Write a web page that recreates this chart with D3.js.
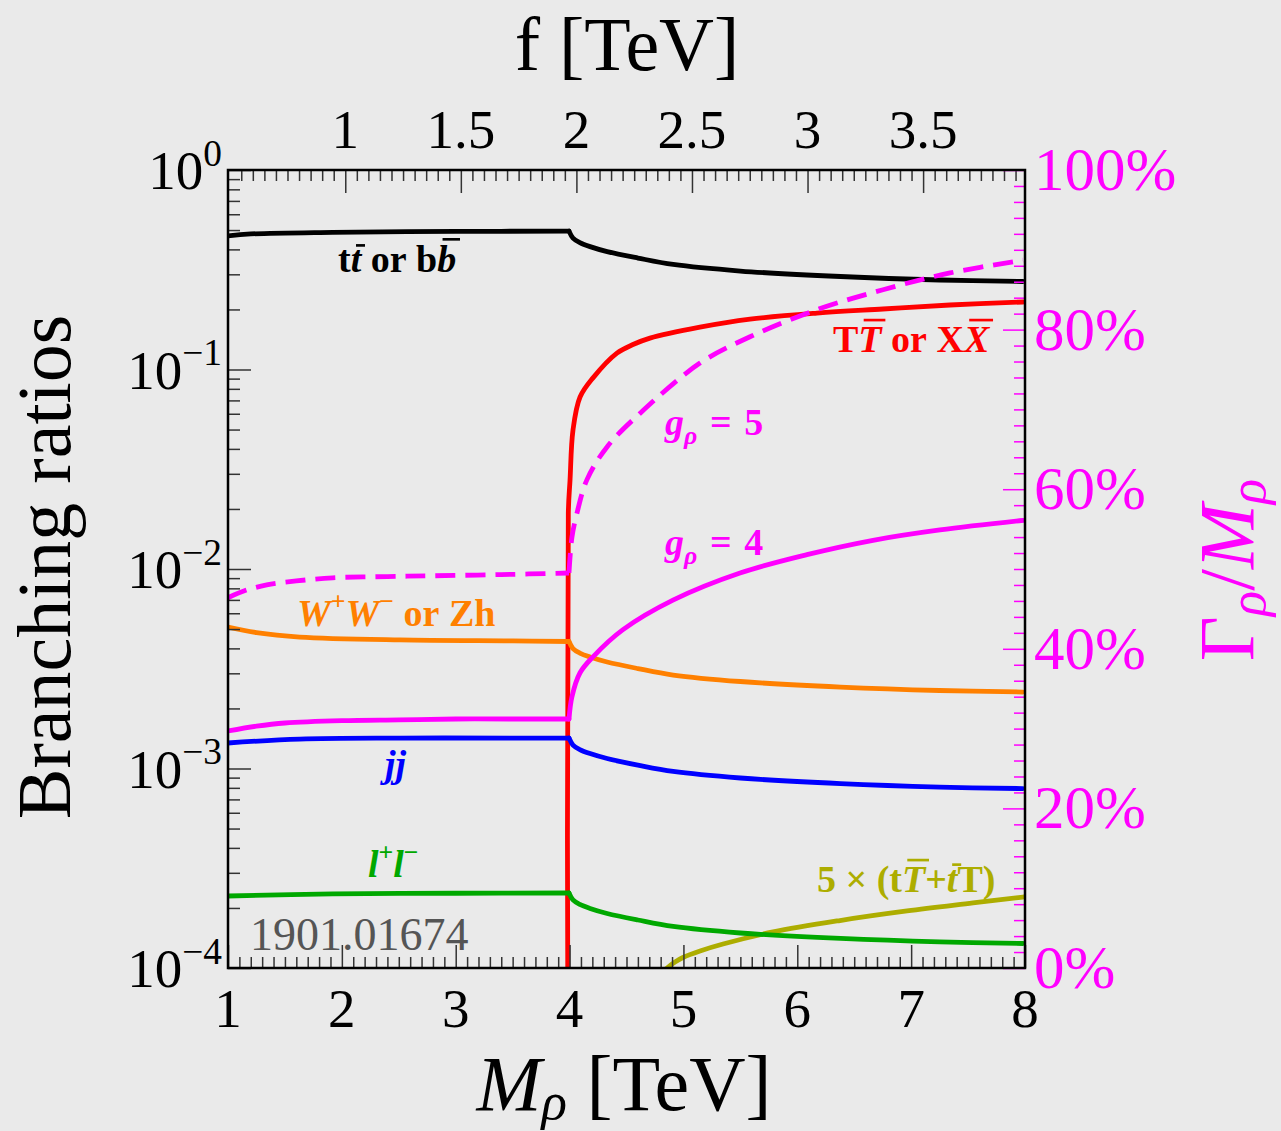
<!DOCTYPE html>
<html>
<head>
<meta charset="utf-8">
<script src="https://cdn.jsdelivr.net/npm/d3@7"></script>
<style>
  html, body { margin: 0; padding: 0; background: #EAEAEA; }
  svg { display: block; }
  text { font-family: "Liberation Serif", "Times New Roman", serif; }
</style>
</head>
<body>
<svg id="chart" width="1281" height="1131"></svg>
<script>
// ---------- data (masses in TeV) ----------
// threshold where the top-partner pair channel opens
const pairThreshold = 3.995;

// t tbar or b bbar
const massTopBottom = [1.0, 1.2, 1.92, 3.0, 3.995, 4.03, 4.09, 4.18, 4.33, 4.6, 4.91, 5.5, 6.38, 7.25, 7.98];
const brTopBottom = [0.467, 0.478, 0.487, 0.492, 0.494, 0.456, 0.433, 0.413, 0.390, 0.362, 0.336, 0.3116, 0.2925, 0.2809, 0.2761];

// W+W- or Zh
const massDiboson = [1.0, 1.25, 1.63, 2.51, 3.5, 3.995, 4.03, 4.09, 4.18, 4.33, 4.6, 4.91, 5.5, 6.38, 7.25, 7.98];
const brDiboson = [5.12e-3, 4.80e-3, 4.56e-3, 4.41e-3, 4.36e-3, 4.33e-3, 3.994e-3, 3.792e-3, 3.621e-3, 3.418e-3, 3.170e-3, 2.942e-3, 2.729e-3, 2.560e-3, 2.460e-3, 2.417e-3];

// jj
const massDijet = [1.0, 1.63, 2.51, 3.5, 3.995, 4.03, 4.09, 4.18, 4.33, 4.6, 4.91, 5.5, 6.38, 7.25, 7.98];
const brDijet = [1.342e-3, 1.405e-3, 1.421e-3, 1.421e-3, 1.421e-3, 1.311e-3, 1.245e-3, 1.188e-3, 1.122e-3, 1.040e-3, 9.66e-4, 8.96e-4, 8.40e-4, 8.07e-4, 7.93e-4];

// l+l-
const massDilepton = [1.0, 1.92, 3.0, 3.995, 4.03, 4.09, 4.18, 4.33, 4.6, 4.91, 5.5, 6.38, 7.25, 7.98];
const brDilepton = [2.296e-4, 2.35e-4, 2.37e-4, 2.377e-4, 2.193e-4, 2.082e-4, 1.988e-4, 1.876e-4, 1.740e-4, 1.615e-4, 1.498e-4, 1.406e-4, 1.351e-4, 1.327e-4];

// T Tbar or X Xbar, opening at threshold
const massTopPartner = [3.988, 3.989, 4.004, 4.030, 4.092, 4.206, 4.416, 4.557, 4.706, 5.145, 5.585, 6.173, 6.753, 7.341, 7.982];
const brTopPartner = [1e-5, 0.0191, 0.0279, 0.0497, 0.0728, 0.0908, 0.1208, 0.1334, 0.1437, 0.1630, 0.1788, 0.1917, 0.2010, 0.2105, 0.2180];

// 5 x (t Tbar + tbar T)
const massSingle = [4.777, 4.856, 4.926, 4.996, 5.146, 5.348, 5.787, 6.375, 6.964, 7.543, 7.982];
const brSingle = [9.12e-5, 1.0e-4, 1.072e-4, 1.129e-4, 1.217e-4, 1.319e-4, 1.516e-4, 1.730e-4, 1.931e-4, 2.118e-4, 2.269e-4];

// total width over mass in percent (right axis), g_rho = 4 and g_rho = 5
const massWidthG4 = [1.0, 1.25, 1.5, 2.0, 2.5, 3.0, 3.5, 3.995, 4.021, 4.092, 4.206, 4.469, 4.908, 5.497, 6.085, 6.665, 7.253, 7.982];
const widthG4 = [29.7, 30.3, 30.7, 31.0, 31.1, 31.2, 31.2, 31.2, 34.0, 37.0, 39.0, 42.4, 46.1, 49.5, 51.8, 53.6, 54.9, 56.1];
const massWidthG5 = [1.0, 1.15, 1.34, 1.6, 1.92, 2.4, 2.8, 3.4, 3.995, 4.021, 4.065, 4.153, 4.329, 4.618, 5.145, 5.585, 6.173, 6.753, 7.341, 7.982];
const widthG5 = [46.4, 47.3, 48.0, 48.5, 48.9, 49.05, 49.15, 49.3, 49.5, 54.0, 57.0, 61.2, 65.3, 69.5, 75.8, 79.1, 82.5, 85.0, 87.1, 88.7];

// ticks
const massTicks = [1, 2, 3, 4, 5, 6, 7, 8];
const fTicks = [1, 1.5, 2, 2.5, 3, 3.5];
const brDecades = [1, 1e-1, 1e-2, 1e-3, 1e-4];
const brExponents = ["0", "\u22121", "\u22122", "\u22123", "\u22124"];
const widthTicks = [0, 20, 40, 60, 80, 100];

// ---------- layout ----------
const L = 228, R = 1025, T = 170, B = 968;
const massPerF = 2.03;

const svg = d3.select("#chart");
const x = d3.scaleLinear().domain([1, 8]).range([L, R]);
const xf = d3.scaleLinear().domain([1 / massPerF, 8 / massPerF]).range([L, R]);
const y = d3.scaleLog().domain([1e-4, 1]).range([B, T]);
const yw = d3.scaleLinear().domain([0, 100]).range([B, T]);

const MAGENTA = "#FF00FF";

// ---------- rich text helper (sup/sub/italic/overbar) ----------
function richLabel(parent, px, py, size, color, parts, opts = {}) {
  const t = parent.append("text")
    .attr("x", px).attr("y", py)
    .attr("font-size", size)
    .attr("fill", color)
    .attr("text-anchor", opts.anchor || "start")
    .attr("font-weight", opts.bold ? "bold" : "normal");
  if (opts.transform) t.attr("transform", opts.transform);
  const subShift = opts.subShift != null ? opts.subShift : 0.24;
  let cur = 0;
  const barred = [];
  parts.forEach(p => {
    const shift = p.sup ? -0.42 * size : p.sub ? subShift * size : 0;
    const ts = t.append("tspan").text(p.t).attr("dy", shift - cur);
    cur = shift;
    if (p.it) ts.attr("font-style", "italic");
    if (p.sup || p.sub) ts.attr("font-size", size * 0.68);
    if (p.bar) barred.push([ts.node(), p.bar, !!p.it]);
  });
  barred.forEach(([node, h, it]) => {
    const n = node.getNumberOfChars();
    const s = node.getStartPositionOfChar(0);
    const e = node.getEndPositionOfChar(n - 1);
    const off = it ? size * 0.12 : 0;
    parent.append("line")
      .attr("x1", s.x + off + size * 0.02).attr("x2", e.x + off - size * 0.02)
      .attr("y1", py - h * size).attr("y2", py - h * size)
      .attr("stroke", color).attr("stroke-width", size * 0.07);
  });
  return t;
}

// ---------- curves ----------
svg.append("clipPath").attr("id", "plotClip")
  .append("rect").attr("x", L).attr("y", T).attr("width", R - L).attr("height", B - T);

const plot = svg.append("g").attr("clip-path", "url(#plotClip)");

// smooth curve; curves with a threshold kink are drawn as two pieces meeting there
function drawCurve(ms, vs, scaleY, color, opts = {}) {
  const pts = ms.map((m, i) => [m, vs[i]]);
  const pieces = opts.kink
    ? [pts.filter(d => d[0] <= pairThreshold), pts.filter(d => d[0] >= pairThreshold)]
    : [pts];
  const line = d3.line()
    .x(d => x(d[0]))
    .y(d => scaleY(d[1]))
    .curve(d3.curveCatmullRom.alpha(0.5));
  pieces.filter(p => p.length > 1).forEach(piece => {
    const path = plot.append("path")
      .datum(piece)
      .attr("d", line)
      .attr("fill", "none")
      .attr("stroke", color)
      .attr("stroke-width", 4.8)
      .attr("stroke-linejoin", "round")
      .attr("stroke-linecap", opts.dash ? "butt" : "round");
    if (opts.dash) path.attr("stroke-dasharray", opts.dash);
  });
}

drawCurve(massTopPartner, brTopPartner, y, "#FF0000");
drawCurve(massSingle, brSingle, y, "#ADAD00");
drawCurve(massTopBottom, brTopBottom, y, "#000000", { kink: true });
drawCurve(massDiboson, brDiboson, y, "#FF8000", { kink: true });
drawCurve(massDijet, brDijet, y, "#0000FF", { kink: true });
drawCurve(massDilepton, brDilepton, y, "#00A800", { kink: true });
drawCurve(massWidthG4, widthG4, yw, MAGENTA, { kink: true });
drawCurve(massWidthG5, widthG5, yw, MAGENTA, { kink: true, dash: "20,10" });

// ---------- axes (ticks pointing inward) ----------
function tickAxis(axis, transform, color) {
  const g = svg.append("g").attr("transform", transform).call(axis);
  g.select(".domain").remove();
  g.selectAll(".tick text").remove();
  g.selectAll(".tick line").attr("stroke", color).attr("stroke-width", 1.5);
  return g;
}

const massMinor = d3.range(10, 81).filter(v => v % 10 !== 0).map(v => v / 10);
const fMinor = d3.range(10, 79).filter(v => v % 10 !== 0).map(v => v / 20);
const brMinor = [];
[-4, -3, -2, -1].forEach(d => { for (let k = 2; k <= 9; k++) brMinor.push(k * Math.pow(10, d)); });
const widthMinor = d3.range(0, 101, 2).filter(v => v % 20 !== 0);

tickAxis(d3.axisBottom(x).tickValues(massTicks).tickSize(-23), `translate(0,${B})`, "#333");
tickAxis(d3.axisBottom(x).tickValues(massMinor).tickSize(-11), `translate(0,${B})`, "#333");
tickAxis(d3.axisTop(xf).tickValues(fTicks).tickSize(-23), `translate(0,${T})`, "#333");
tickAxis(d3.axisTop(xf).tickValues(fMinor).tickSize(-11), `translate(0,${T})`, "#333");
tickAxis(d3.axisLeft(y).tickValues(brDecades).tickSize(-23), `translate(${L},0)`, "#333");
tickAxis(d3.axisLeft(y).tickValues(brMinor).tickSize(-12), `translate(${L},0)`, "#333");
tickAxis(d3.axisRight(yw).tickValues(widthTicks).tickSize(-22), `translate(${R},0)`, MAGENTA);
tickAxis(d3.axisRight(yw).tickValues(widthMinor).tickSize(-11), `translate(${R},0)`, MAGENTA);

// frame
svg.append("rect")
  .attr("x", L).attr("y", T).attr("width", R - L).attr("height", B - T)
  .attr("fill", "none").attr("stroke", "#000").attr("stroke-width", 2.5);

// ---------- tick labels ----------
const TICK_FS = 55;
const labels = svg.append("g");

massTicks.forEach(m => {
  labels.append("text").attr("x", x(m)).attr("y", 1027)
    .attr("text-anchor", "middle").attr("font-size", TICK_FS).text(m);
});
fTicks.forEach(f => {
  labels.append("text").attr("x", xf(f)).attr("y", 148)
    .attr("text-anchor", "middle").attr("font-size", TICK_FS).text(f);
});
brDecades.forEach((v, i) => {
  richLabel(labels, 222, y(v) + 19, TICK_FS, "#000",
    [{ t: "10" }, { t: brExponents[i], sup: true }], { anchor: "end" });
});
widthTicks.forEach(w => {
  labels.append("text").attr("x", 1034).attr("y", yw(w) + 20)
    .attr("font-size", 61).attr("fill", MAGENTA).text(w + "%");
});

// ---------- axis titles ----------
const TITLE_FS = 78;
richLabel(svg, 627, 70, 76, "#000", [{ t: "f\u00A0[TeV]" }], { anchor: "middle" });
richLabel(svg, 624, 1110, TITLE_FS, "#000",
  [{ t: "M", it: true }, { t: "\u03C1", it: true, sub: true }, { t: "\u00A0[TeV]" }],
  { anchor: "middle", subShift: 0.12 });
richLabel(svg, 0, 0, 76, "#000", [{ t: "Branching\u00A0ratios" }],
  { anchor: "middle", transform: "translate(70,567) rotate(-90)" });
richLabel(svg, 0, 0, TITLE_FS, MAGENTA,
  [{ t: "\u0393" }, { t: "\u03C1", it: true, sub: true }, { t: "/" }, { t: "M", it: true }, { t: "\u03C1", it: true, sub: true }],
  { anchor: "middle", transform: "translate(1253,570) rotate(-90)", subShift: 0.16 });

// ---------- curve labels ----------
const LBL_FS = 38;
const ann = svg.append("g");
richLabel(ann, 338, 272, LBL_FS, "#000",
  [{ t: "t" }, { t: "t", it: true, bar: 0.7 }, { t: "\u00A0or\u00A0b" }, { t: "b", it: true, bar: 0.86 }], { bold: true });
richLabel(ann, 833, 352, LBL_FS, "#FF0000",
  [{ t: "T" }, { t: "T", it: true, bar: 0.84 }, { t: "\u00A0or\u00A0X" }, { t: "X", it: true, bar: 0.84 }], { bold: true });
richLabel(ann, 665, 435, LBL_FS, MAGENTA,
  [{ t: "g", it: true }, { t: "\u03C1", it: true, sub: true }, { t: "\u2004=\u20045" }], { bold: true });
richLabel(ann, 665, 555, LBL_FS, MAGENTA,
  [{ t: "g", it: true }, { t: "\u03C1", it: true, sub: true }, { t: "\u2004=\u20044" }], { bold: true });
richLabel(ann, 297, 626, LBL_FS, "#FF8000",
  [{ t: "W", it: true }, { t: "+", sup: true }, { t: "W", it: true }, { t: "\u2212", sup: true }, { t: "\u00A0or\u00A0Zh" }], { bold: true });
richLabel(ann, 385, 777, LBL_FS, "#0000FF", [{ t: "jj", it: true }], { bold: true });
richLabel(ann, 368, 877, LBL_FS, "#00A800",
  [{ t: "l", it: true }, { t: "+", sup: true }, { t: "l", it: true }, { t: "\u2212", sup: true }], { bold: true });
richLabel(ann, 817, 892, LBL_FS, "#ADAD00",
  [{ t: "5\u00A0\u00D7\u00A0(t" }, { t: "T", it: true, bar: 0.84 }, { t: "+" }, { t: "t", it: true, bar: 0.72 }, { t: "T)" }], { bold: true });

ann.append("text").attr("x", 250).attr("y", 950)
  .attr("font-size", 46).attr("fill", "#555555").text("1901.01674");
</script>
</body>
</html>
